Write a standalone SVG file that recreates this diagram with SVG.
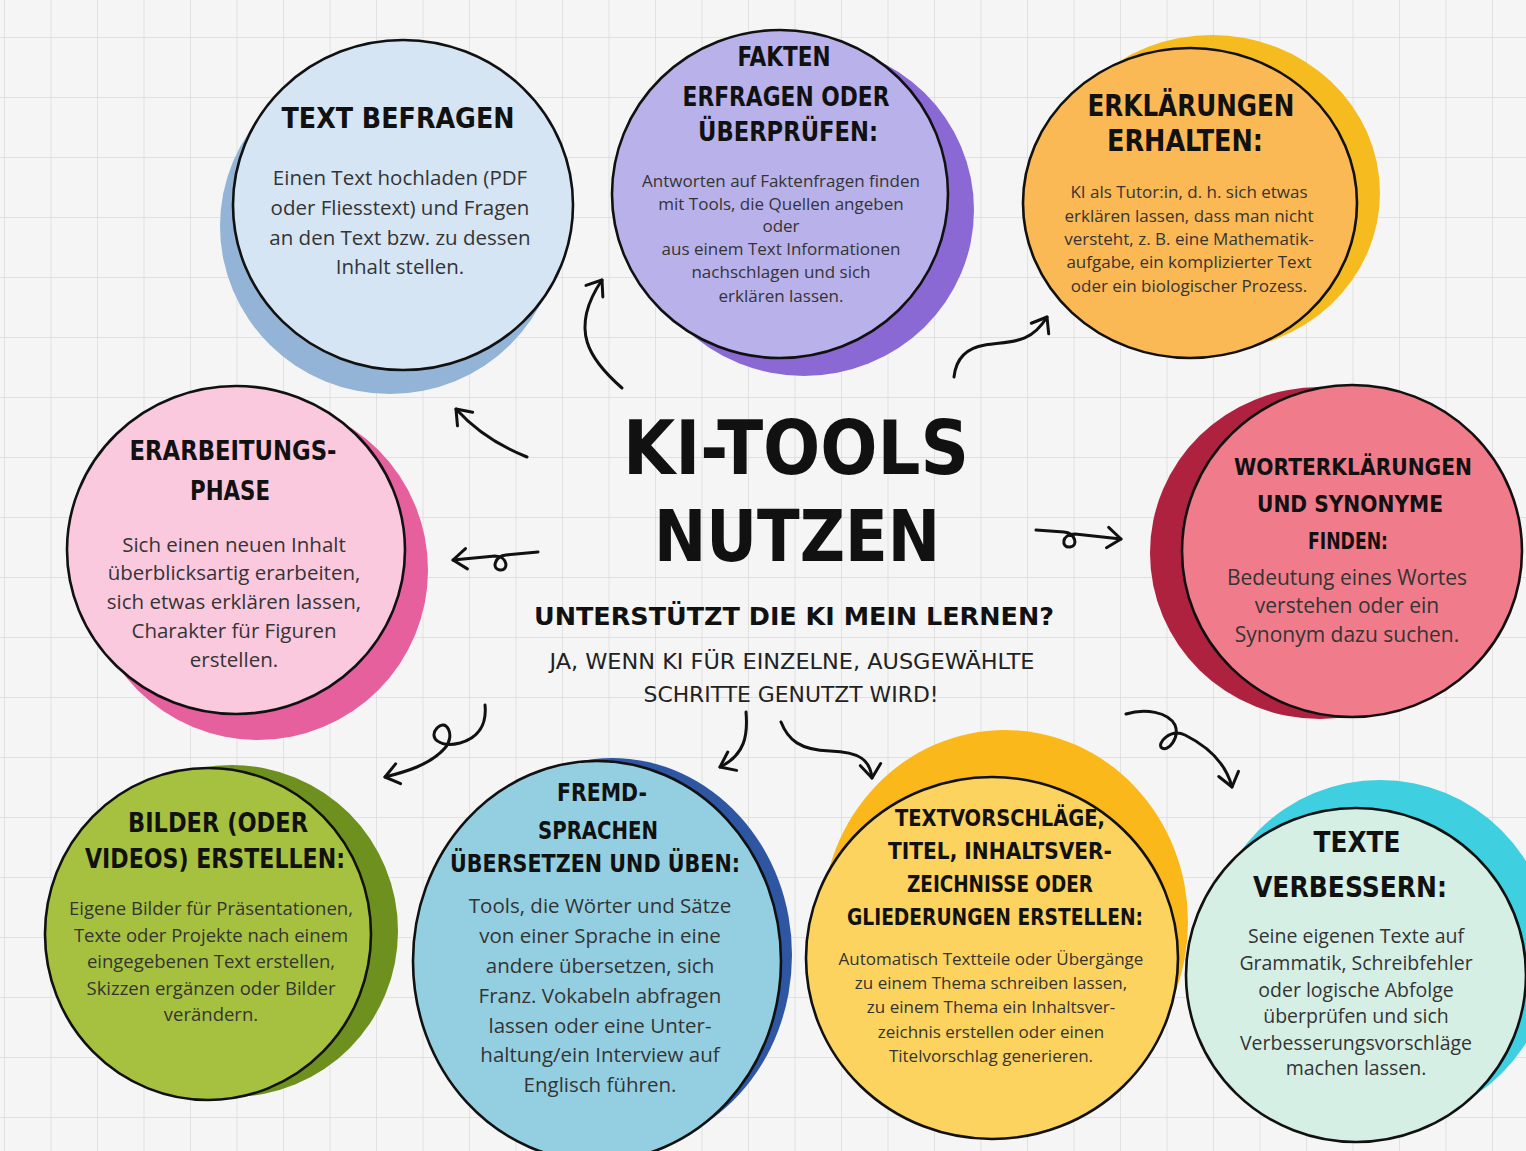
<svg xmlns="http://www.w3.org/2000/svg" width="1526" height="1151" viewBox="0 0 1526 1151">
<defs>
<pattern id="grid" x="4" y="37" width="46.5" height="60" patternUnits="userSpaceOnUse">
<path d="M0,0 H46.5 M0,0 V60" fill="none" stroke="#d9d9d9" stroke-width="1.4"/>
</pattern>
<marker id="arr" markerUnits="strokeWidth" viewBox="-1 -4.5 7 9" markerWidth="7" markerHeight="9" refX="4.5" refY="0" orient="auto" overflow="visible">
<path d="M0,-3.4 L4.5,0 L0,3.4" fill="none" stroke="#111" stroke-width="1" stroke-linecap="round" stroke-linejoin="round"/>
</marker>
</defs>
<style>
.ring{stroke:#111;stroke-width:2.6}
.t{font-family:"DejaVu Sans","Liberation Sans",sans-serif;font-weight:bold;font-stretch:condensed;fill:#111;text-anchor:middle}
.thin{font-family:"DejaVu Sans","Liberation Sans",sans-serif;font-weight:normal;font-stretch:condensed;fill:#222;text-anchor:middle}
.b{font-family:"Open Sans","Liberation Sans",sans-serif;fill:#343434;text-anchor:middle}
.c{fill:none;stroke:#111;stroke-width:3;stroke-linecap:round;stroke-linejoin:round;marker-end:url(#arr)}
</style>
<rect width="1526" height="1151" fill="#f5f5f5"/>
<rect width="1526" height="1151" fill="url(#grid)"/>

<g id="node-text-befragen">
<ellipse cx="390" cy="226" rx="170" ry="168" fill="#93b4d6"/>
<ellipse class="ring" cx="403" cy="205" rx="170" ry="165" fill="#d6e5f4"/>
<text class="t" x="398" y="128" font-size="29" textLength="233" lengthAdjust="spacingAndGlyphs">TEXT BEFRAGEN</text>
<g class="b" font-size="20.5">
<text x="400" y="185">Einen Text hochladen (PDF</text>
<text x="400" y="215">oder Fliesstext) und Fragen</text>
<text x="400" y="245">an den Text bzw. zu dessen</text>
<text x="400" y="274">Inhalt stellen.</text>
</g>
</g>

<g id="node-fakten">
<ellipse cx="804" cy="210" rx="170" ry="166" fill="#8a69d5"/>
<ellipse class="ring" cx="780" cy="194" rx="168" ry="164" fill="#b9b1ea"/>
<text class="t" x="784" y="66" font-size="26" textLength="93" lengthAdjust="spacingAndGlyphs">FAKTEN</text>
<text class="t" x="786" y="106" font-size="26" textLength="207" lengthAdjust="spacingAndGlyphs">ERFRAGEN ODER</text>
<text class="t" x="788" y="141" font-size="26" textLength="180" lengthAdjust="spacingAndGlyphs">ÜBERPRÜFEN:</text>
<g class="b" font-size="17">
<text x="781" y="187">Antworten auf Faktenfragen finden</text>
<text x="781" y="210">mit Tools, die Quellen angeben</text>
<text x="781" y="232">oder</text>
<text x="781" y="255">aus einem Text Informationen</text>
<text x="781" y="278">nachschlagen und sich</text>
<text x="781" y="302">erklären lassen.</text>
</g>
</g>

<g id="node-erklaerungen">
<ellipse cx="1212" cy="193" rx="168" ry="158" fill="#f6bc1f"/>
<ellipse class="ring" cx="1190" cy="203" rx="167" ry="155" fill="#fbb955"/>
<text class="t" x="1191" y="116" font-size="30" textLength="207" lengthAdjust="spacingAndGlyphs">ERKLÄRUNGEN</text>
<text class="t" x="1185" y="151" font-size="30" textLength="156" lengthAdjust="spacingAndGlyphs">ERHALTEN:</text>
<g class="b" font-size="17">
<text x="1189" y="198">KI als Tutor:in, d. h. sich etwas</text>
<text x="1189" y="222">erklären lassen, dass man nicht</text>
<text x="1189" y="245">versteht, z. B. eine Mathematik-</text>
<text x="1189" y="268">aufgabe, ein komplizierter Text</text>
<text x="1189" y="292">oder ein biologischer Prozess.</text>
</g>
</g>

<g id="node-erarbeitungsphase">
<ellipse cx="258" cy="570" rx="170" ry="170" fill="#e6609e"/>
<ellipse class="ring" cx="236" cy="550" rx="169" ry="164" fill="#fbc9de"/>
<text class="t" x="233" y="460" font-size="26" textLength="207" lengthAdjust="spacingAndGlyphs">ERARBEITUNGS-</text>
<text class="t" x="230" y="500" font-size="26" textLength="80" lengthAdjust="spacingAndGlyphs">PHASE</text>
<g class="b" font-size="20.5">
<text x="234" y="552">Sich einen neuen Inhalt</text>
<text x="234" y="580">überblicksartig erarbeiten,</text>
<text x="234" y="609">sich etwas erklären lassen,</text>
<text x="234" y="638">Charakter für Figuren</text>
<text x="234" y="667">erstellen.</text>
</g>
</g>

<g id="node-worterklaerungen">
<ellipse cx="1320" cy="553" rx="170" ry="166" fill="#ae2240"/>
<ellipse class="ring" cx="1352" cy="551" rx="170" ry="166" fill="#f07b8a"/>
<text class="t" x="1353" y="475" font-size="23" textLength="238" lengthAdjust="spacingAndGlyphs">WORTERKLÄRUNGEN</text>
<text class="t" x="1350" y="512" font-size="23" textLength="186" lengthAdjust="spacingAndGlyphs">UND SYNONYME</text>
<text class="t" x="1348" y="549" font-size="23" textLength="80" lengthAdjust="spacingAndGlyphs">FINDEN:</text>
<g class="b" font-size="21">
<text x="1347" y="585">Bedeutung eines Wortes</text>
<text x="1347" y="613">verstehen oder ein</text>
<text x="1347" y="642">Synonym dazu suchen.</text>
</g>
</g>

<g id="node-center">
<text class="t" x="796" y="474" font-size="74" textLength="346" lengthAdjust="spacingAndGlyphs">KI-TOOLS</text>
<text class="t" x="797" y="561" font-size="72" textLength="286" lengthAdjust="spacingAndGlyphs">NUTZEN</text>
<text class="t" x="794" y="625" font-size="25" textLength="520" lengthAdjust="spacingAndGlyphs">UNTERSTÜTZT DIE KI MEIN LERNEN?</text>
<text class="thin" x="792" y="669" font-size="22" textLength="485" lengthAdjust="spacingAndGlyphs">JA, WENN KI FÜR EINZELNE, AUSGEWÄHLTE</text>
<text class="thin" x="791" y="702" font-size="22" textLength="295" lengthAdjust="spacingAndGlyphs">SCHRITTE GENUTZT WIRD!</text>
</g>

<g id="node-bilder">
<ellipse cx="232" cy="931" rx="166" ry="166" fill="#6d901f"/>
<ellipse class="ring" cx="208" cy="934" rx="163" ry="166" fill="#a6c13f"/>
<text class="t" x="218" y="832" font-size="26" textLength="180" lengthAdjust="spacingAndGlyphs">BILDER (ODER</text>
<text class="t" x="215" y="868" font-size="26" textLength="260" lengthAdjust="spacingAndGlyphs">VIDEOS) ERSTELLEN:</text>
<g class="b" font-size="18.5" fill="#2e3320">
<text x="211" y="915">Eigene Bilder für Präsentationen,</text>
<text x="211" y="942">Texte oder Projekte nach einem</text>
<text x="211" y="968">eingegebenen Text erstellen,</text>
<text x="211" y="995">Skizzen ergänzen oder Bilder</text>
<text x="211" y="1021">verändern.</text>
</g>
</g>

<g id="node-fremdsprachen">
<ellipse cx="612" cy="955" rx="180" ry="197" fill="#2f56a3"/>
<ellipse class="ring" cx="597" cy="961" rx="184" ry="200" fill="#93cfe1"/>
<text class="t" x="602" y="801" font-size="24" textLength="90" lengthAdjust="spacingAndGlyphs">FREMD-</text>
<text class="t" x="598" y="839" font-size="24" textLength="120" lengthAdjust="spacingAndGlyphs">SPRACHEN</text>
<text class="t" x="595" y="872" font-size="24" textLength="290" lengthAdjust="spacingAndGlyphs">ÜBERSETZEN UND ÜBEN:</text>
<g class="b" font-size="20.5" fill="#22383f">
<text x="600" y="913">Tools, die Wörter und Sätze</text>
<text x="600" y="943">von einer Sprache in eine</text>
<text x="600" y="973">andere übersetzen, sich</text>
<text x="600" y="1003">Franz. Vokabeln abfragen</text>
<text x="600" y="1033">lassen oder eine Unter-</text>
<text x="600" y="1062">haltung/ein Interview auf</text>
<text x="600" y="1092">Englisch führen.</text>
</g>
</g>

<g id="node-textvorschlaege">
<ellipse cx="1005" cy="922" rx="183" ry="192" fill="#fbb81b"/>
<ellipse class="ring" cx="992" cy="958" rx="186" ry="181" fill="#fcd35f"/>
<text class="t" x="1000" y="826" font-size="23" textLength="210" lengthAdjust="spacingAndGlyphs">TEXTVORSCHLÄGE,</text>
<text class="t" x="1000" y="859" font-size="23" textLength="224" lengthAdjust="spacingAndGlyphs">TITEL, INHALTSVER-</text>
<text class="t" x="1000" y="892" font-size="23" textLength="186" lengthAdjust="spacingAndGlyphs">ZEICHNISSE ODER</text>
<text class="t" x="995" y="925" font-size="23" textLength="296" lengthAdjust="spacingAndGlyphs">GLIEDERUNGEN ERSTELLEN:</text>
<g class="b" font-size="17">
<text x="991" y="965">Automatisch Textteile oder Übergänge</text>
<text x="991" y="989">zu einem Thema schreiben lassen,</text>
<text x="991" y="1013">zu einem Thema ein Inhaltsver-</text>
<text x="991" y="1038">zeichnis erstellen oder einen</text>
<text x="991" y="1062">Titelvorschlag generieren.</text>
</g>
</g>

<g id="node-texte-verbessern">
<ellipse cx="1380" cy="952" rx="172" ry="172" fill="#3ecfe0"/>
<ellipse class="ring" cx="1356" cy="975" rx="170" ry="167" fill="#d5efe5"/>
<text class="t" x="1357" y="852" font-size="28" textLength="87" lengthAdjust="spacingAndGlyphs">TEXTE</text>
<text class="t" x="1350" y="897" font-size="28" textLength="194" lengthAdjust="spacingAndGlyphs">VERBESSERN:</text>
<g class="b" font-size="19.5">
<text x="1356" y="943">Seine eigenen Texte auf</text>
<text x="1356" y="970">Grammatik, Schreibfehler</text>
<text x="1356" y="997">oder logische Abfolge</text>
<text x="1356" y="1023">überprüfen und sich</text>
<text x="1356" y="1050">Verbesserungsvorschläge</text>
<text x="1356" y="1075">machen lassen.</text>
</g>
</g>

<g id="connectors">
<path class="c" d="M527,457 Q484,440 456,409"/>
<path class="c" d="M622,388 C590,360 568,330 602,280"/>
<path class="c" d="M954,377 C956,358 966,348 985,345 C1010,341 1030,345 1047,317"/>
<path class="c" d="M538,552 L506,555 C495,556 491,569 500,570 C509,571 508,556 495,556 L453,560"/>
<path class="c" d="M1036,530 L1064,532 C1075,533 1079,546 1070,547 C1061,548 1061,534 1075,534 L1121,539"/>
<path class="c" d="M485,705 C487,725 478,738 460,743 C440,748 428,738 437,728 C446,718 456,735 445,748 C430,765 405,772 385,777"/>
<path class="c" d="M746,712 C748,735 745,755 720,767"/>
<path class="c" d="M781,722 C788,740 800,750 830,751 C860,752 870,760 872,778"/>
<path class="c" stroke-width="4.5" d="M1126,714 C1145,708 1168,712 1175,725 C1180,738 1168,752 1162,748 C1156,744 1170,728 1185,735 C1205,745 1225,760 1232,787"/>
</g>
</svg>
